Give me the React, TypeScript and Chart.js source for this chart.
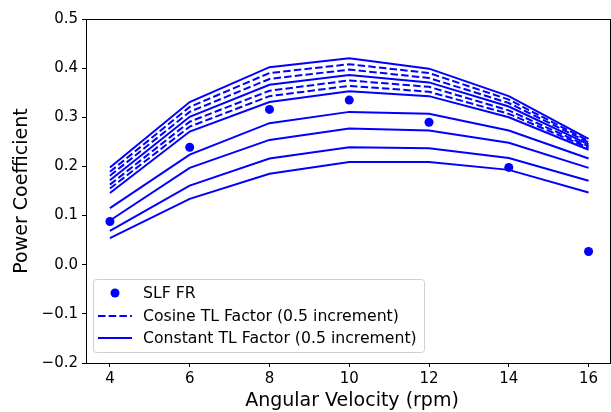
import React, { useEffect, useRef } from "react";
import { Chart, registerables } from "chart.js";

Chart.register(...registerables);

const velocities = [4, 6, 8, 10, 12, 14, 16];
const xTicks = [4, 6, 8, 10, 12, 14, 16];
const yTicks = [-0.2, -0.1, 0.0, 0.1, 0.2, 0.3, 0.4, 0.5];

const slfFR = [0.088, 0.239, 0.316, 0.335, 0.29, 0.198, 0.027];

// upper bundle, top to bottom
const upper1 = [0.198, 0.331, 0.402, 0.42, 0.399, 0.343, 0.256];
const upper2 = [0.189, 0.321, 0.39, 0.408, 0.39, 0.336, 0.252];
const upper3 = [0.181, 0.311, 0.378, 0.397, 0.38, 0.329, 0.249];
const upper4 = [0.172, 0.301, 0.366, 0.386, 0.371, 0.322, 0.245];
const upper5 = [0.163, 0.291, 0.354, 0.375, 0.362, 0.314, 0.241];
const upper6 = [0.155, 0.281, 0.343, 0.364, 0.352, 0.307, 0.238];
const upper7 = [0.146, 0.271, 0.331, 0.353, 0.343, 0.3, 0.234];

// lower constant lines
const lower1 = [0.115, 0.224, 0.288, 0.311, 0.307, 0.273, 0.216];
const lower2 = [0.09, 0.197, 0.254, 0.277, 0.273, 0.248, 0.197];
const lower3 = [0.069, 0.161, 0.216, 0.239, 0.237, 0.217, 0.171];
const lower4 = [0.054, 0.134, 0.185, 0.209, 0.209, 0.193, 0.147];

const dashedSeries = [upper2, upper3, upper5, upper6];
const solidSeries = [upper1, upper4, upper7, lower1, lower2, lower3, lower4];

const legendLabels = [
  "SLF FR",
  "Cosine TL Factor (0.5 increment)",
  "Constant TL Factor (0.5 increment)",
];

const BLUE = "#0000ff";
const FONT = "'DejaVu Sans', sans-serif";

const toXY = (ys: number[]) => ys.map((y, i) => ({ x: velocities[i], y }));

export default function App() {
  const ref = useRef<HTMLCanvasElement | null>(null);

  useEffect(() => {
    if (!ref.current) return;
    const datasets: any[] = [];
    solidSeries.forEach((s) =>
      datasets.push({
        type: "line",
        data: toXY(s),
        borderColor: BLUE,
        borderWidth: 2,
        pointRadius: 0,
        fill: false,
        tension: 0,
      })
    );
    dashedSeries.forEach((s) =>
      datasets.push({
        type: "line",
        data: toXY(s),
        borderColor: BLUE,
        borderWidth: 2,
        borderDash: [7.5, 3.2],
        pointRadius: 0,
        fill: false,
        tension: 0,
      })
    );
    datasets.push({
      type: "scatter",
      data: toXY(slfFR),
      backgroundColor: BLUE,
      borderColor: BLUE,
      pointRadius: 4.5,
      borderWidth: 0,
      showLine: false,
    });

    const decor = {
      id: "decor",
      afterDraw(chart: any) {
        const ctx = chart.ctx;
        const a = chart.chartArea;
        ctx.save();
        // frame
        ctx.strokeStyle = "#000";
        ctx.lineWidth = 1;
        ctx.strokeRect(a.left + 0.5, a.top + 0.5, Math.min(a.right, 611) - a.left - 1, a.bottom - a.top);
        // axis titles
        ctx.fillStyle = "#000";
        ctx.font = `19px ${FONT}`;
        ctx.textAlign = "center";
        ctx.textBaseline = "middle";
        ctx.fillText("Angular Velocity (rpm)", 352, 401);
        ctx.save();
        ctx.translate(22, (a.top + a.bottom) / 2);
        ctx.rotate(-Math.PI / 2);
        ctx.fillText("Power Coefficient", 0, 0);
        ctx.restore();
        // legend
        const lx = 93, ly = 279, lw = 331, lh = 73;
        ctx.beginPath();
        (ctx as any).roundRect(lx + 0.5, ly + 0.5, lw, lh, 3);
        ctx.fillStyle = "rgba(255,255,255,0.8)";
        ctx.fill();
        ctx.strokeStyle = "#d0d0d0";
        ctx.lineWidth = 1;
        ctx.stroke();
        const rows = [293, 316, 338];
        // marker
        ctx.fillStyle = BLUE;
        ctx.beginPath();
        ctx.arc(115, rows[0], 4.5, 0, Math.PI * 2);
        ctx.fill();
        ctx.strokeStyle = BLUE;
        ctx.lineWidth = 2;
        ctx.setLineDash([7.5, 3.2]);
        ctx.beginPath();
        ctx.moveTo(98, rows[1]);
        ctx.lineTo(132, rows[1]);
        ctx.stroke();
        ctx.setLineDash([]);
        ctx.beginPath();
        ctx.moveTo(98, rows[2]);
        ctx.lineTo(132, rows[2]);
        ctx.stroke();
        ctx.fillStyle = "#000";
        ctx.font = `15.7px ${FONT}`;
        ctx.textAlign = "left";
        legendLabels.forEach((t, i) => ctx.fillText(t, 143, rows[i] + 1));
        ctx.restore();
      },
    };

    const chart = new Chart(ref.current, {
      type: "line",
      data: { datasets },
      options: {
        animation: false,
        responsive: false,
        maintainAspectRatio: false,
        layout: { padding: { top: 19, right: 0, left: 0, bottom: 0 } },
        plugins: { legend: { display: false }, tooltip: { enabled: false } },
        scales: {
          x: {
            type: "linear",
            min: 3.4,
            max: 16.6,
            afterBuildTicks: (s: any) => {
              s.ticks = xTicks.map((v) => ({ value: v }));
            },
            afterFit: (s: any) => {
              s.height = 49;
              s.paddingLeft = 0;
              s.paddingRight = 0;
            },
            grid: { drawOnChartArea: false, tickLength: 4, color: "#000" },
            border: { display: false },
            ticks: {
              color: "#000",
              padding: 3,
              maxRotation: 0,
              font: { family: FONT, size: 15 },
              callback: (v: any) => String(v),
            },
          },
          y: {
            type: "linear",
            min: -0.2,
            max: 0.5,
            afterBuildTicks: (s: any) => {
              s.ticks = yTicks.map((v) => ({ value: v }));
            },
            afterFit: (s: any) => {
              s.width = 86;
              s.paddingTop = 0;
              s.paddingBottom = 0;
            },
            grid: { drawOnChartArea: false, tickLength: 4, color: "#000" },
            border: { display: false },
            ticks: {
              color: "#000",
              padding: 4,
              font: { family: FONT, size: 15 },
              callback: (v: any) => Number(v).toFixed(1).replace("-", "\u2212"),
            },
          },
        },
      },
      plugins: [decor],
    } as any);
    return () => chart.destroy();
  }, []);

  return (
    <div style={{ position: "fixed", left: 0, top: 0, width: 611, height: 412, background: "#fff", overflow: "hidden" }}>
      <canvas ref={ref} width={617} height={412} style={{ width: 617, height: 412, display: "block" }} />
    </div>
  );
}
